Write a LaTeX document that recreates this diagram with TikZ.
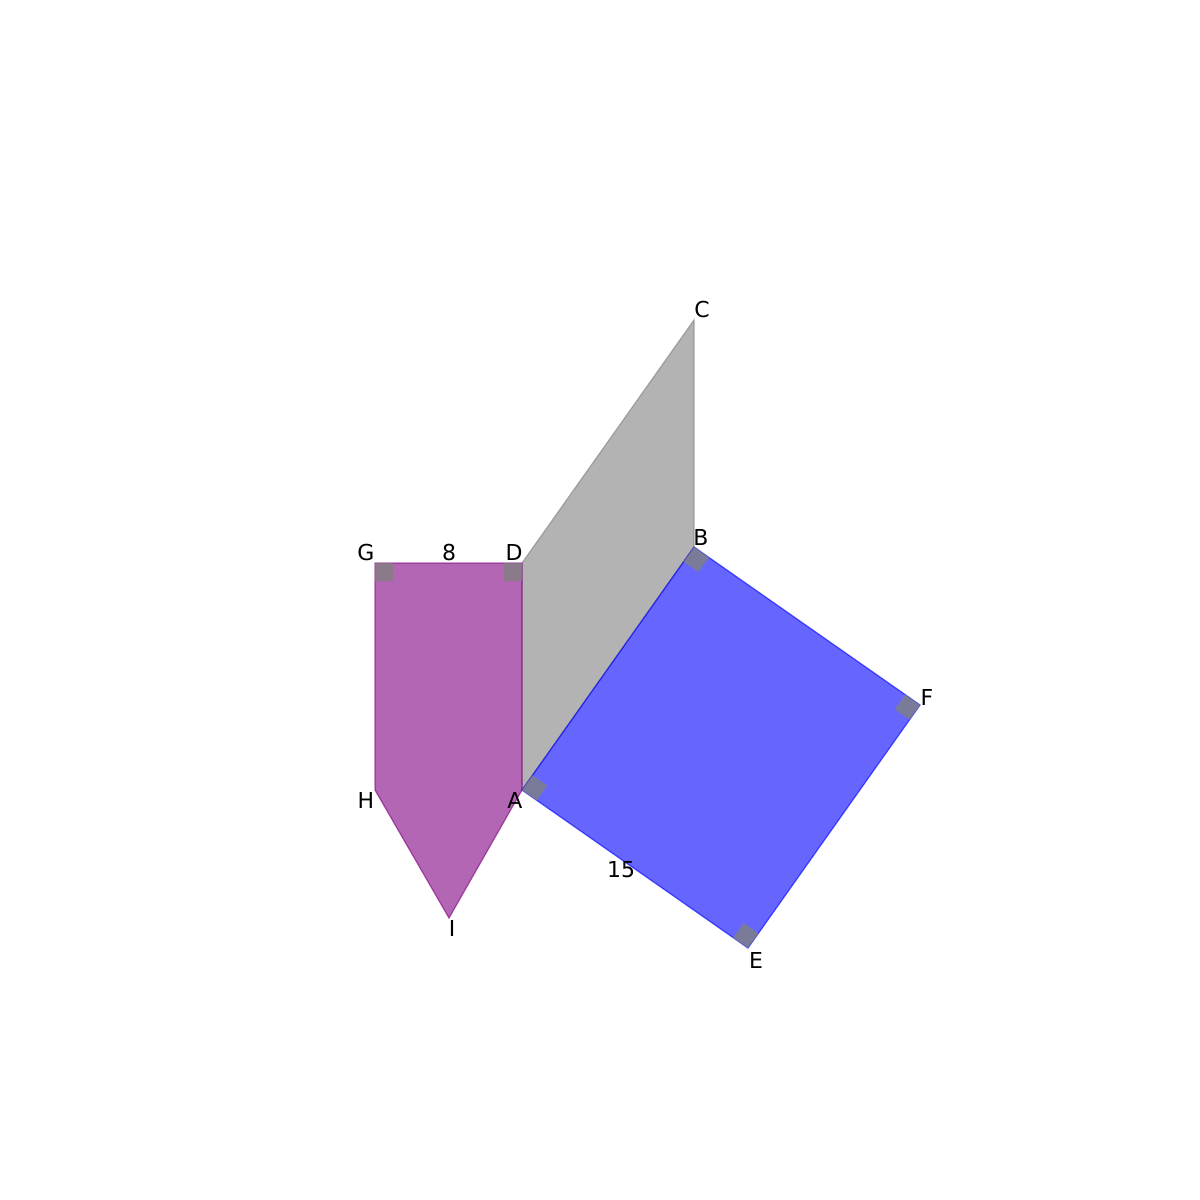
\documentclass[tikz,border=0pt]{standalone}
\usepackage{fontspec}
\setmainfont{DejaVu Sans}
\usetikzlibrary{calc}

\begin{document}
\begin{tikzpicture}[x=0.02cm, y=-0.02cm,
    lbl/.style={font=\fontsize{12.5}{14}\selectfont, inner sep=0pt},
    face/.style={draw=#1, fill=#1, opacity=0.6, line width=0.7pt},
    rightmark/.style={fill=gray, fill opacity=0.8}]
    \useasboundingbox (0, 0) rectangle (1200, 1200);

    % corner points
    \coordinate (A) at (522, 790);
    \coordinate (B) at (694, 547);
    \coordinate (C) at (694, 320);
    \coordinate (D) at (522, 563);
    \coordinate (E) at (748, 948);
    \coordinate (F) at (920, 705);
    \coordinate (G) at (375, 563);
    \coordinate (H) at (375, 790);
    \coordinate (I) at (449, 918);

    \filldraw[face=gray] (A) -- (B) -- (C) -- (D) -- cycle;
    \filldraw[face=violet] (G) -- (D) -- (A) -- (I) -- (H) -- cycle;
    \filldraw[face=blue] (A) -- (B) -- (F) -- (E) -- cycle;

    % right angle marks
    \foreach \p/\q/\r in {G/D/H, D/G/A, A/B/E, B/A/F, F/B/E, E/F/A} {
        \fill[rightmark] (\p) -- ($(\p)!0.36cm!(\q)$) -- ($(\p)!0.36cm!(\q) + (\p)!0.36cm!(\r) - (\p)$) -- ($(\p)!0.36cm!(\r)$) -- cycle;
    }

    \node[lbl] at (702, 310) {C};
    \node[lbl] at (701, 537) {B};
    \node[lbl] at (514, 552) {D};
    \node[lbl] at (366, 552) {G};
    \node[lbl] at (449, 552) {8};
    \node[lbl] at (366, 800) {H};
    \node[lbl] at (515, 800) {A};
    \node[lbl] at (452, 928) {I};
    \node[lbl] at (756, 960) {E};
    \node[lbl] at (927, 697) {F};
    \node[lbl] at (621, 870) {15};
\end{tikzpicture}
\end{document}
